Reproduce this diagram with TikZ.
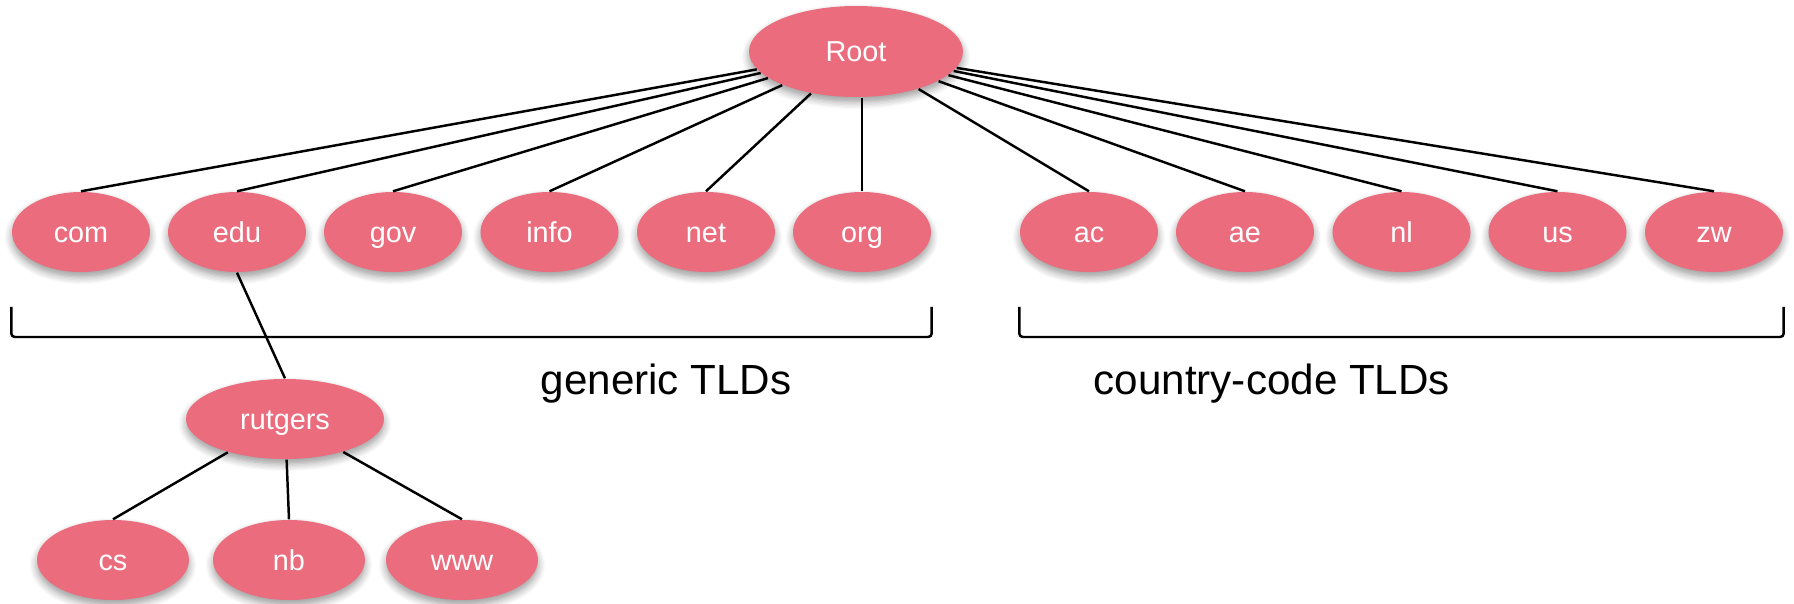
\documentclass[tikz,border=0pt]{standalone}
\usepackage{fontspec}
\setmainfont{Liberation Sans}
\usetikzlibrary{shapes.geometric,shadows.blur}
\definecolor{tldpink}{RGB}{234,108,125}
\tikzset{dnsnode/.style={ellipse, fill=tldpink, text=white, inner sep=0pt,
           minimum width=1.38cm, minimum height=0.8cm, font=\fontsize{8.2}{9.8}\selectfont,
           text height=5.8pt, text depth=0pt,
           blur shadow={shadow xshift=0pt, shadow yshift=-0.05cm, shadow blur steps=6, shadow opacity=40}},
         link/.style={black, line width=0.7pt},
         tldlabel/.style={anchor=base west, inner sep=0pt, font=\fontsize{12}{14.4}\selectfont}}

\begin{document}
\begin{tikzpicture}
     \useasboundingbox (0,0) rectangle (17.94,-6.04);
     \node[dnsnode, minimum width=2.14cm, minimum height=0.91cm] (root) at (8.56,-0.515) {Root};
     \node[dnsnode] (com)  at ( 0.81,-2.32) {com};
     \node[dnsnode] (edu)  at ( 2.37,-2.32) {edu};
     \node[dnsnode] (gov)  at ( 3.93,-2.32) {gov};
     \node[dnsnode] (info) at ( 5.495,-2.32) {info};
     \node[dnsnode] (net)  at ( 7.06,-2.32) {net};
     \node[dnsnode] (org)  at ( 8.62,-2.32) {org};
     \node[dnsnode] (ac)   at (10.89,-2.32) {ac};
     \node[dnsnode] (ae)   at (12.45,-2.32) {ae};
     \node[dnsnode] (nl)   at (14.015,-2.32) {nl};
     \node[dnsnode] (us)   at (15.575,-2.32) {us};
     \node[dnsnode] (zw)   at (17.14,-2.32) {zw};
     \node[dnsnode, minimum width=1.98cm] (rutgers) at (2.85,-4.19) {rutgers};
     \node[dnsnode, minimum width=1.52cm] (cs)  at (1.13,-5.60) {cs};
     \node[dnsnode, minimum width=1.52cm] (nb)  at (2.89,-5.60) {nb};
     \node[dnsnode, minimum width=1.52cm] (www) at (4.62,-5.60) {www};
     \draw[link] (root) -- (com.north);
     \draw[link] (root) -- (edu.north);
     \draw[link] (root) -- (gov.north);
     \draw[link] (root) -- (info.north);
     \draw[link] (root) -- (net.north);
     \draw[link] (org.north) -- (org.north |- root.south);
     \draw[link] (root) -- (ac.north);
     \draw[link] (root) -- (ae.north);
     \draw[link] (root) -- (nl.north);
     \draw[link] (root) -- (us.north);
     \draw[link] (root) -- (zw.north);
     \draw[link] (edu.south) -- (rutgers.north);
     \draw[link] (rutgers) -- (cs.north);
     \draw[link] (rutgers) -- (nb.north);
     \draw[link] (rutgers) -- (www.north);
     \draw[link, rounded corners=1pt] (com.west |- 0,-3.07) -- (com.west |- 0,-3.37) -- (org.east |- 0,-3.37) -- (org.east |- 0,-3.07);
     \draw[link, rounded corners=1pt] (ac.west |- 0,-3.07) -- (ac.west |- 0,-3.37) -- (zw.east |- 0,-3.37) -- (zw.east |- 0,-3.07);
     \node[tldlabel] (generic) at (5.40,-3.95) {generic TLDs};
     \node[tldlabel] (country) at (10.93,-3.95) {country-code TLDs};
    \end{tikzpicture}
\end{document}
